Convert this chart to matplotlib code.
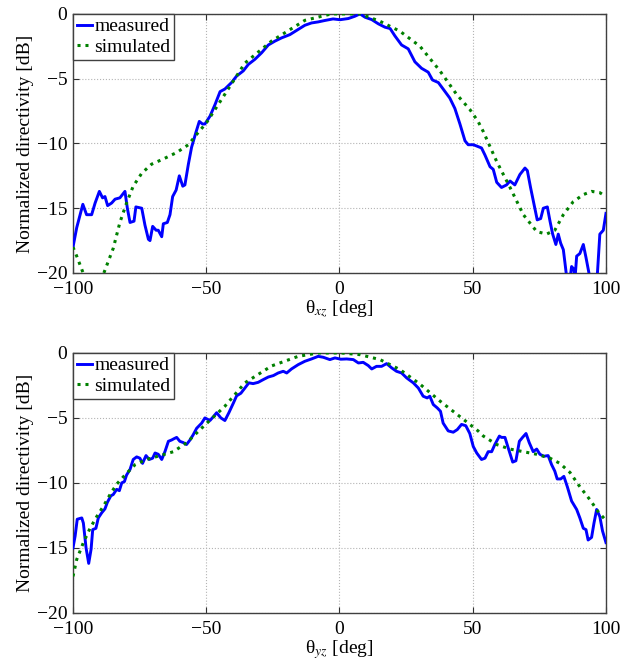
import matplotlib
matplotlib.use("Agg")
import matplotlib.pyplot as plt

plt.rcParams['font.family'] = ['Liberation Serif', 'DejaVu Serif']
plt.rcParams['mathtext.fontset'] = 'stix'

# ---- top panel (xz plane) ----
xz_meas_x = [-100, -98.6, -96.3, -94.9, -93.0, -91.7, -90.1, -88.9, -88.0, -87.0, -85.5, -84.2,
             -82.4, -80.5, -79.6, -78.6, -77.1, -76.4, -74.2, -73.0, -71.7, -71.1, -70.1, -68.8,
             -68.0, -66.7, -66.1, -64.6, -63.6, -62.6, -61.3, -60.1, -58.8, -58.0, -56.7, -55.5,
             -53.8, -52.6, -51.4, -50.5, -48.6, -46.7, -44.8, -43.0, -40.5, -38.6, -36.1, -34.2,
             -31.7, -29.2, -26.7, -24.2, -21.7, -18.6, -15.5, -13.0, -10.5, -8.0, -5.5, -2.4,
             0.2, 3.3, 5.8, 7.7, 9.6, 12.1, 14.6, 17.1, 19.0, 20.8, 23.3, 25.8, 28.3, 30.8,
             33.3, 34.9, 37.1, 38.9, 41.4, 43.3, 45.2, 47.1, 48.3, 50.2, 51.5, 53.3, 54.6, 56.5,
             57.7, 59.0, 60.8, 62.7, 64.0, 65.8, 67.7, 69.6, 70.5, 71.7, 73.0, 74.2, 75.5, 76.5,
             78.0, 79.0, 80.0, 81.2, 82.1, 83.0, 84.0, 84.6, 85.3, 86.3, 87.1, 87.9, 88.4, 89.0,
             90.2, 91.5, 92.5, 93.7, 95.0, 96.5, 97.7, 99.0, 100.0]
xz_meas_y = [-18.0, -16.5, -14.7, -15.5, -15.5, -14.6, -13.7, -14.2, -14.1, -14.8, -14.6, -14.3,
             -14.2, -13.7, -15.0, -16.1, -16.0, -14.9, -15.0, -16.3, -17.4, -17.5, -16.4, -16.7,
             -16.7, -17.2, -16.2, -16.1, -15.5, -14.1, -13.6, -12.5, -13.3, -13.2, -11.6, -10.3,
             -9.1, -8.3, -8.5, -8.5, -7.9, -7.0, -6.0, -5.8, -5.3, -4.8, -4.4, -3.9,
             -3.5, -3.0, -2.4, -2.1, -1.85, -1.6, -1.2, -0.88, -0.7, -0.62, -0.51, -0.39,
             -0.45, -0.36, -0.18, 0.0, -0.26, -0.44, -0.77, -1.03, -1.13, -1.7, -2.4, -2.7, -3.7, -4.2,
             -4.5, -5.1, -5.3, -5.8, -6.5, -7.3, -8.5, -9.8, -10.1, -10.1, -10.2, -10.35, -10.9, -11.8,
             -12.0, -13.0, -13.4, -13.2, -12.9, -13.2, -12.4, -11.9, -12.1, -13.4, -14.7, -15.9, -15.8, -15.0,
             -14.9, -16.0, -17.0, -17.8, -17.0, -17.7, -18.2, -19.2, -20.4, -20.8, -19.5, -19.7, -20.4, -18.7,
             -18.5, -17.8, -18.8, -20.1, -21.5, -21.0, -17.0, -16.7, -15.4]

xz_sim_x = [-100, -98.6, -96.0, -94.0, -92.0, -90.0, -88.6, -84.9, -82.4, -79.9, -77.4, -74.2,
            -70.5, -66.1, -61.1, -56.7, -53.6, -49.9, -43.0, -35.5, -25.5, -13.0, -3.0, 7.7,
            15.2, 22.7, 30.2, 37.7, 43.9, 49.0, 52.0, 54.0, 59.0, 64.0, 69.0, 74.0, 77.7,
            80.8, 84.0, 87.7, 91.5, 94.6, 97.7, 100.0]
xz_sim_y = [-18.0, -18.7, -20.1, -21.3, -21.8, -21.0, -20.1, -18.1, -16.1, -14.6, -13.3, -12.3,
            -11.6, -11.2, -10.7, -10.1, -9.3, -8.4, -6.2, -3.8, -2.1, -0.5, 0.0, 0.0,
            -0.57, -1.34, -2.5, -4.4, -6.2, -7.4, -8.3, -9.1, -11.4, -13.4, -15.5, -16.8, -17.0,
            -16.7, -15.5, -14.5, -13.95, -13.7, -13.8, -14.1]

# ---- bottom panel (yz plane) ----
yz_meas_x = [-100, -99.2, -98.4, -96.7, -96.1, -95.1, -94.1, -93.2, -92.6, -91.4, -90.5, -89.2,
             -88.0, -87.1, -85.8, -84.9, -83.6, -82.6, -81.7, -80.7, -79.9, -78.6, -77.4, -76.1,
             -74.9, -73.9, -72.6, -71.4, -70.1, -69.2, -68.0, -66.7, -65.5, -64.2, -63.0, -62.1,
             -61.1, -59.9, -58.6, -57.4, -56.1, -54.9, -53.6, -51.7, -50.5, -48.6, -47.3, -46.1,
             -44.5, -43.0, -41.5, -39.8, -38.6, -37.0, -35.5, -34.0, -32.4, -30.5, -28.6, -26.7,
             -24.8, -23.0, -21.1, -19.8, -18.0, -15.5, -13.0, -10.5, -8.0, -6.1, -3.6, -1.7,
             0.5, 2.7, 5.2, 7.1, 8.9, 10.8, 12.1, 13.9, 15.8, 17.7, 19.6, 21.4, 23.3, 25.2,
             27.7, 29.6, 31.4, 32.9, 33.9, 35.2, 36.7, 37.9, 38.9, 40.8, 42.7, 44.2, 45.8, 47.4,
             48.9, 50.2, 51.5, 53.3, 54.6, 55.8, 57.1, 58.3, 60.0, 60.8, 62.1, 63.3, 65.0, 66.2,
             67.5, 68.7, 70.0, 71.2, 72.7, 74.0, 75.2, 76.7, 78.3, 79.6, 80.8, 81.7, 83.0, 84.2,
             85.5, 87.1, 89.0, 90.2, 91.5, 92.5, 93.3, 94.6, 95.5, 96.5, 97.7, 98.7, 100.0]
yz_meas_y = [-15.0, -14.1, -12.8, -12.7, -13.1, -15.0, -16.2, -15.1, -13.6, -13.5, -12.7, -12.3,
             -12.0, -11.5, -11.0, -10.9, -10.5, -10.6, -10.0, -9.9, -9.4, -8.97, -8.2, -8.0,
             -8.1, -8.5, -7.9, -8.2, -8.1, -7.7, -7.8, -8.2, -7.6, -6.8, -6.7, -6.6,
             -6.5, -6.8, -6.9, -7.05, -6.7, -6.3, -5.8, -5.4, -5.0, -5.2, -4.9, -4.6,
             -5.0, -5.2, -4.6, -3.85, -3.3, -3.1, -2.7, -2.3, -2.36, -2.26, -2.05, -1.85,
             -1.74, -1.54, -1.41, -1.54, -1.23, -0.9, -0.64, -0.46, -0.26, -0.33, -0.51, -0.38,
             -0.48, -0.46, -0.51, -0.77, -0.72, -0.97, -1.23, -1.03, -1.03, -0.82, -1.15, -1.41, -1.54, -1.92,
             -2.3, -2.7, -3.33, -3.46, -3.33, -3.97, -4.23, -4.49, -5.4, -6.0, -6.1, -5.9, -5.5, -5.6,
             -6.2, -7.2, -7.7, -8.2, -8.1, -7.6, -7.6, -7.05, -6.4, -6.5, -6.5, -7.3, -8.4, -8.3,
             -6.8, -6.5, -6.2, -6.9, -7.6, -7.4, -7.8, -7.95, -7.9, -8.6, -9.1, -9.7, -9.7, -9.5,
             -10.3, -11.4, -12.05, -12.7, -13.5, -13.6, -14.4, -14.2, -13.1, -12.05, -12.6, -13.7, -14.6]

yz_sim_x = [-100, -98.6, -96.1, -93.6, -91.1, -88.6, -86.1, -83.6, -80.5, -76.7, -72.4, -67.3,
            -62.3, -57.3, -52.3, -49.2, -43.0, -35.5, -25.5, -15.5, -8.0, 0.8, 7.7, 15.2,
            22.7, 30.2, 37.7, 45.2, 52.0, 54.0, 59.0, 64.0, 69.0, 74.0, 79.0, 82.7, 86.5,
            90.2, 94.0, 97.0, 100.0]
yz_sim_y = [-17.2, -15.9, -14.6, -13.5, -12.6, -11.8, -10.9, -10.1, -9.4, -8.6, -8.2, -7.9,
            -7.6, -6.9, -5.9, -5.3, -4.1, -2.3, -1.0, -0.26, 0.0, 0.0, -0.13, -0.51,
            -1.28, -2.4, -3.7, -4.9, -6.0, -6.4, -7.05, -7.4, -7.6, -7.8, -8.1, -8.5, -9.2,
            -10.3, -11.3, -12.2, -12.9]

x_ticks = [-100, -50, 0, 50, 100]
y_ticks = [-20, -15, -10, -5, 0]
legend_labels = ['measured', 'simulated']
y_label = 'Normalized directivity [dB]'
x_labels = [r'θ$_{xz}$ [deg]', r'θ$_{yz}$ [deg]']

FS = 14
fig = plt.figure(figsize=(6.33, 6.61), dpi=100)
ax1 = fig.add_axes([0.1153, 0.587, 0.842, 0.392])
ax2 = fig.add_axes([0.1153, 0.073, 0.842, 0.393])

panels = [(ax1, xz_meas_x, xz_meas_y, xz_sim_x, xz_sim_y, x_labels[0]),
          (ax2, yz_meas_x, yz_meas_y, yz_sim_x, yz_sim_y, x_labels[1])]

for ax, mx, my, sx, sy, xl in panels:
    ax.plot(mx, my, color='#0000ff', lw=2.1, label=legend_labels[0], zorder=3)
    ax.plot(sx, sy, color='#008000', lw=2.2, linestyle=(0, (1, 1.6)),
            label=legend_labels[1], zorder=4)
    ax.set_xlim(-100, 100)
    ax.set_ylim(-20, 0)
    ax.set_xticks(x_ticks)
    ax.set_yticks(y_ticks)
    ax.grid(True, color='#b4b4b4', linestyle=':', linewidth=0.8)
    ax.tick_params(direction='in', top=True, right=True, labelsize=FS,
                   length=4, width=0.8, color='#303030')
    ax.tick_params(axis='x', pad=6)
    ax.tick_params(axis='y', pad=4)
    for s in ax.spines.values():
        s.set_color('#404040')
        s.set_linewidth(1.0)
    ax.set_xlabel(xl, fontsize=FS, labelpad=0)
    ax.set_ylabel(y_label, fontsize=FS, labelpad=2)
    leg = ax.legend(loc='upper left', fontsize=FS, fancybox=False, framealpha=1,
                    edgecolor='#404040', borderaxespad=0.0, handlelength=0.8,
                    handletextpad=0.1, borderpad=0.2, labelspacing=0.15)
    leg.get_frame().set_linewidth(1.0)

fig.savefig('out.png', dpi=100)
